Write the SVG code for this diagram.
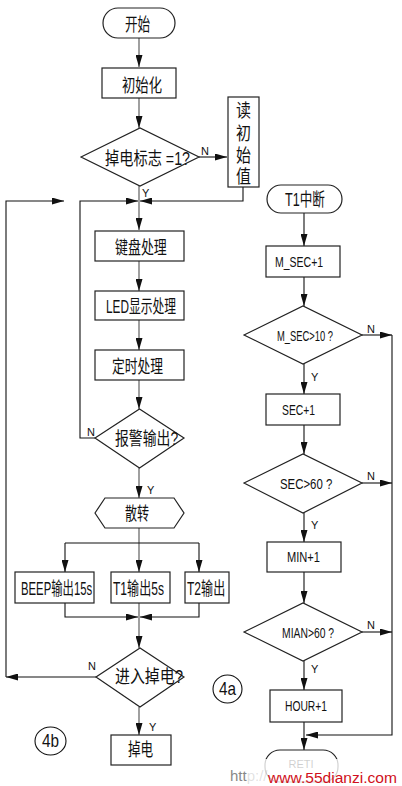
<svg xmlns="http://www.w3.org/2000/svg" width="402" height="786" viewBox="0 0 402 786">
<style>
.n{fill:#fff;stroke:#222;stroke-width:1.2}
.t{font-family:"Liberation Sans","Noto Sans CJK SC",sans-serif;font-size:18px;fill:#111}
.e{font-family:"Liberation Sans",sans-serif;font-size:15px;fill:#111}
.l{font-family:"Liberation Sans",sans-serif;font-size:11px;fill:#111}
.g{fill:none;stroke:#888;stroke-width:1.6}
.k{fill:none;stroke:#111;stroke-width:1.1}
</style>
<defs>
<marker id="a" markerUnits="userSpaceOnUse" markerWidth="12" markerHeight="7" refX="12" refY="3.5" orient="auto">
<path d="M0,0 L12,3.5 L0,7 z" fill="#111"/>
</marker>
</defs>
<rect width="402" height="786" fill="#fff"/>
<g id="connectors">
<path class="g" d="M139,38 V67" marker-end="url(#a)"/>
<path class="g" d="M139,98 V128" marker-end="url(#a)"/>
<path class="k" d="M199,157 H227" marker-end="url(#a)"/>
<path class="k" d="M243,187 V201 H140" marker-end="url(#a)"/>
<path class="g" d="M139,186 V230" marker-end="url(#a)"/>
<path class="k" d="M95,438 H80 V201 H138" marker-end="url(#a)"/>
<path class="k" d="M96,677 H6" marker-end="url(#a)"/>
<path class="k" d="M6,677 V201 H64" marker-end="url(#a)"/>
<path class="g" d="M139,261 V291" marker-end="url(#a)"/>
<path class="g" d="M139,320 V350" marker-end="url(#a)"/>
<path class="g" d="M139,380 V409" marker-end="url(#a)"/>
<path class="g" d="M139,468 V498" marker-end="url(#a)"/>
<path class="g" d="M139,528 V572" marker-end="url(#a)"/>
<path class="k" d="M65,543 H199"/>
<path class="k" d="M65,543 V572" marker-end="url(#a)"/>
<path class="k" d="M199,543 V572" marker-end="url(#a)"/>
<path class="k" d="M65,603 V617 H138" marker-end="url(#a)"/>
<path class="k" d="M199,603 V617 H140" marker-end="url(#a)"/>
<path class="g" d="M139,603 V648" marker-end="url(#a)"/>
<path class="g" d="M139,707 V735" marker-end="url(#a)"/>
<path class="k" d="M304,213 V246" marker-end="url(#a)"/>
<path class="k" d="M304,277 V306" marker-end="url(#a)"/>
<path class="k" d="M362,335 H392" marker-end="url(#a)"/>
<path class="k" d="M392,335 V735 H306" marker-end="url(#a)"/>
<path class="k" d="M304,364 V394" marker-end="url(#a)"/>
<path class="k" d="M304,425 V454" marker-end="url(#a)"/>
<path class="k" d="M362,483 H392" marker-end="url(#a)"/>
<path class="k" d="M304,513 V542" marker-end="url(#a)"/>
<path class="k" d="M304,572 V603" marker-end="url(#a)"/>
<path class="k" d="M362,632 H392" marker-end="url(#a)"/>
<path class="k" d="M304,661 V690" marker-end="url(#a)"/>
<path class="k" d="M304,722 V750" marker-end="url(#a)"/>
<text class="l" x="201" y="155">N</text>
<text class="l" x="142" y="197">Y</text>
<text class="l" x="87" y="436">N</text>
<text class="l" x="147" y="494">Y</text>
<text class="l" x="88" y="670">N</text>
<text class="l" x="149" y="731">Y</text>
<text class="l" x="367" y="333">N</text>
<text class="l" x="311" y="381">Y</text>
<text class="l" x="367" y="480">N</text>
<text class="l" x="311" y="529">Y</text>
<text class="l" x="367" y="629">N</text>
<text class="l" x="311" y="673">Y</text>
</g>
<g id="start"><rect class="n" x="103" y="8" width="72" height="30" rx="15"/><text class="t" transform="translate(125,31) scale(0.7,1)" textLength="36" lengthAdjust="spacingAndGlyphs">开始</text></g>
<g id="init"><rect class="n" x="102" y="68" width="74" height="30"/><text class="t" transform="translate(122,92) scale(0.74,1)" textLength="54" lengthAdjust="spacingAndGlyphs">初始化</text></g>
<g id="flag"><polygon class="n" points="81,157 140,128 199,157 140,186"/><text class="t" transform="translate(105,165) scale(0.79,1)" textLength="107.6" lengthAdjust="spacingAndGlyphs">掉电标志 =1?</text></g>
<g id="readinit"><rect class="n" x="228" y="97" width="31" height="90"/>
<text class="t" transform="translate(243.5,117) scale(0.83,1)" text-anchor="middle">读</text>
<text class="t" transform="translate(243.5,140) scale(0.83,1)" text-anchor="middle">初</text>
<text class="t" transform="translate(243.5,162) scale(0.83,1)" text-anchor="middle">始</text>
<text class="t" transform="translate(243.5,183) scale(0.83,1)" text-anchor="middle">值</text></g>
<g id="key"><rect class="n" x="95" y="231" width="89" height="30"/><text class="t" transform="translate(115,254) scale(0.72,1)" textLength="72" lengthAdjust="spacingAndGlyphs">键盘处理</text></g>
<g id="led"><rect class="n" x="95" y="291" width="89" height="29"/><text class="t" transform="translate(106,313) scale(0.654,1)" textLength="107" lengthAdjust="spacingAndGlyphs">LED显示处理</text></g>
<g id="timer"><rect class="n" x="95" y="350" width="89" height="30"/><text class="t" transform="translate(112,373) scale(0.71,1)" textLength="72" lengthAdjust="spacingAndGlyphs">定时处理</text></g>
<g id="alarm"><polygon class="n" points="95,438 139.5,409 184,438 139.5,468"/><text class="t" transform="translate(115,445) scale(0.77,1)" textLength="82" lengthAdjust="spacingAndGlyphs">报警输出?</text></g>
<g id="switch"><polygon class="n" points="95,513 105,498 174,498 184,513 174,528 105,528"/><text class="t" transform="translate(125,520) scale(0.67,1)" textLength="36" lengthAdjust="spacingAndGlyphs">散转</text></g>
<g id="beep"><rect class="n" x="15" y="572" width="79" height="31"/><text class="t" transform="translate(21,595) scale(0.63,1)" textLength="113" lengthAdjust="spacingAndGlyphs">BEEP输出15s</text></g>
<g id="t1out"><rect class="n" x="111" y="572" width="59" height="31"/><text class="t" transform="translate(113,595) scale(0.67,1)" textLength="76" lengthAdjust="spacingAndGlyphs">T1输出5s</text></g>
<g id="t2out"><rect class="n" x="185" y="572" width="44" height="31"/><text class="t" transform="translate(187,595) scale(0.67,1)" textLength="57" lengthAdjust="spacingAndGlyphs">T2输出</text></g>
<g id="enterpd"><polygon class="n" points="96,677 140,648 184,677 140,707"/><text class="t" transform="translate(115,683) scale(0.83,1)" textLength="82" lengthAdjust="spacingAndGlyphs">进入掉电?</text></g>
<g id="pd"><rect class="n" x="111" y="735" width="60" height="30"/><text class="t" transform="translate(128,756) scale(0.7,1)" textLength="36" lengthAdjust="spacingAndGlyphs">掉电</text></g>
<g id="l4b"><ellipse cx="50.5" cy="741" rx="15.5" ry="14" fill="none" stroke="#111" stroke-width="1.1"/><text class="t" transform="translate(50.5,747) scale(0.85,1)" text-anchor="middle">4b</text></g>
<g id="l4a"><ellipse cx="227.5" cy="689" rx="14.5" ry="14" fill="none" stroke="#111" stroke-width="1.1"/><text class="t" transform="translate(227.5,695) scale(0.85,1)" text-anchor="middle">4a</text></g>
<g id="t1int"><rect class="n" x="267" y="185" width="75" height="28" rx="14"/><text class="t" transform="translate(285,206) scale(0.7,1)" textLength="57" lengthAdjust="spacingAndGlyphs">T1中断</text></g>
<g id="msec"><rect class="n" x="266" y="246" width="74" height="31"/><text class="e" transform="translate(275,267) scale(0.7,1)" textLength="68.8" lengthAdjust="spacingAndGlyphs">M_SEC+1</text></g>
<g id="msecq"><polygon class="n" points="244,335 303,306 362,335 303,364"/><text class="e" transform="translate(277,341) scale(0.625,1)" textLength="89.6" lengthAdjust="spacingAndGlyphs">M_SEC&gt;10 ?</text></g>
<g id="sec"><rect class="n" x="266" y="394" width="74" height="31"/><text class="e" transform="translate(282,415) scale(0.69,1)" textLength="47.9" lengthAdjust="spacingAndGlyphs">SEC+1</text></g>
<g id="secq"><polygon class="n" points="244,483 303,454 362,483 303,513"/><text class="e" transform="translate(280,489) scale(0.76,1)" textLength="68.8" lengthAdjust="spacingAndGlyphs">SEC&gt;60 ?</text></g>
<g id="min"><rect class="n" x="267" y="542" width="74" height="30"/><text class="e" transform="translate(287,562) scale(0.74,1)" textLength="44.6" lengthAdjust="spacingAndGlyphs">MIN+1</text></g>
<g id="minq"><polygon class="n" points="244,632 303,603 362,632 303,661"/><text class="e" transform="translate(282,638) scale(0.69,1)" textLength="75.5" lengthAdjust="spacingAndGlyphs">MIAN&gt;60 ?</text></g>
<g id="hour"><rect class="n" x="270" y="690" width="72" height="32"/><text class="e" transform="translate(285,711) scale(0.685,1)" textLength="61.3" lengthAdjust="spacingAndGlyphs">HOUR+1</text></g>
<g id="reti"><rect class="n" x="265" y="750" width="73" height="32" rx="15"/><text class="l" x="301" y="768" text-anchor="middle">RETI</text></g>
<g id="watermark">
<rect x="228" y="759" width="174" height="27" fill="#fff" opacity="0.8"/>
<text x="230" y="781" font-family="Liberation Sans,sans-serif" font-size="15px" fill="#888">htt<tspan fill-opacity="0.25">p://</tspan></text>
<text x="268" y="783" font-family="Liberation Sans,sans-serif" font-size="15.5px" fill="#d01020" textLength="129" lengthAdjust="spacingAndGlyphs">www.55dianzi.com</text>
</g>
</svg>
